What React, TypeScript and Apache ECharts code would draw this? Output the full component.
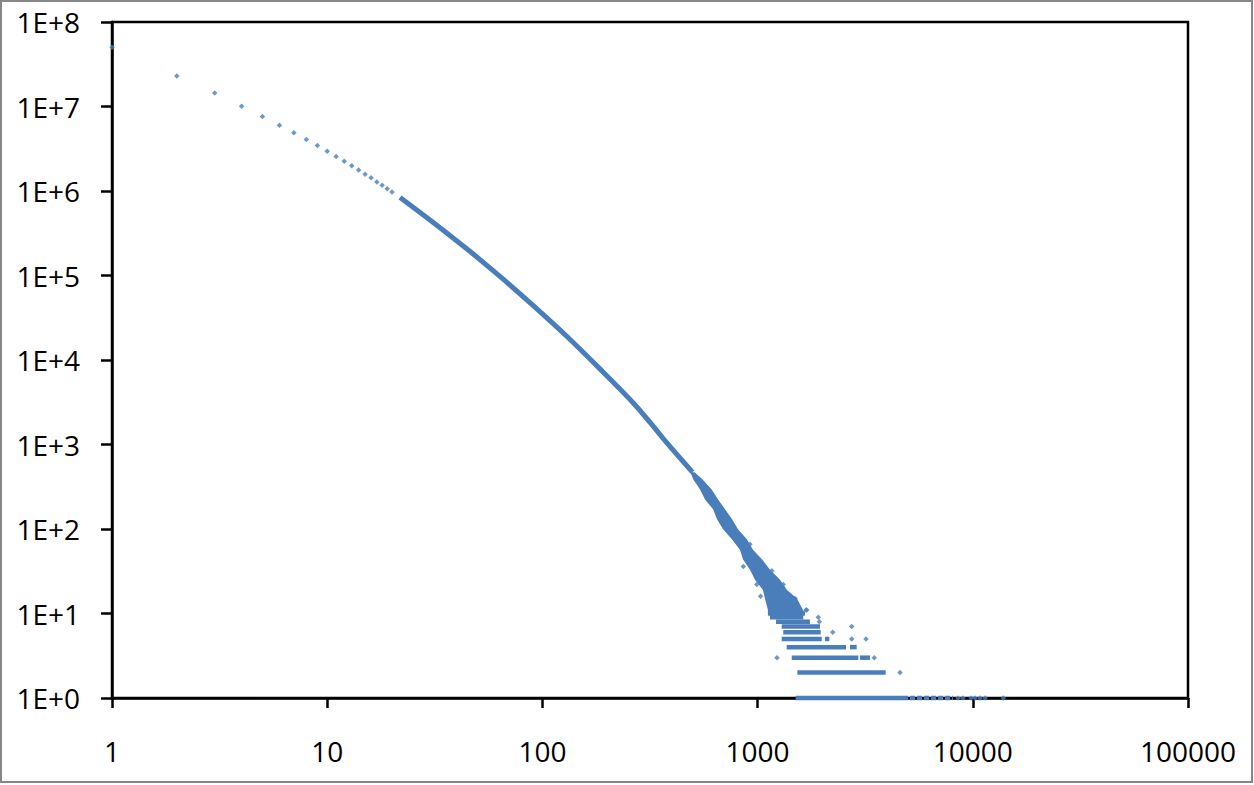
import React, { useEffect, useRef } from 'react';
import * as echarts from 'echarts';

// Individually visible points at the small-x end
const headX = [1, 2, 3, 4, 5, 6, 7, 8, 9, 10, 11, 12, 13, 14, 15, 16, 17, 18, 19, 20];
const headY = [5.02e7, 2.3e7, 1.44e7, 1.01e7, 7.6e6, 6.0e6, 4.88e6, 4.06e6, 3.45e6, 2.96e6,
  2.56e6, 2.25e6, 1.99e6, 1.77e6, 1.58e6, 1.43e6, 1.28e6, 1.17e6, 1.06e6, 9.7e5];

// Dense merged part of the curve (centre line)
const curveX = [21.8, 31.1, 44.5, 63.5, 90.7, 129.7, 185, 264.5, 327, 378, 498];
const curveY = [8.4e5, 4.25e5, 2.07e5, 9.75e4, 4.4e4, 1.91e4, 7.85e3, 3.1e3, 1.65e3, 1050, 470];

// Noisy cloud: left / right edges at each count level
const cloudY = [470, 385, 294, 224, 171, 130, 99, 75, 57, 44, 33, 25, 19, 15, 11, 10];
const cloudLeft = [487, 503, 540, 570, 621, 648, 691, 761, 828, 855, 922, 972, 1059, 1082, 1117, 1117];
const cloudRight = [510, 555, 612, 655, 706, 761, 811, 893, 952, 1047, 1142, 1271, 1370, 1524, 1625, 1660];

// Solid horizontal runs at small integer counts
const bandY = [10, 9, 8, 7, 6, 5, 5, 4, 4, 3, 3, 2, 1];
const bandStart = [1117, 1142, 1218, 1294, 1316, 1294, 2056, 1365, 2687, 1441, 2990, 1530, 1503];
const bandEnd = [1660, 1630, 1751, 1950, 1964, 1986, 2155, 2576, 2886, 2938, 3330, 3938, 4742];

// Sparser run at count 1
const sparseY = [1];
const sparseStart = [4742];
const sparseEnd = [8090];

// Isolated points
const outX = [922, 859, 1164, 991, 1033, 1316, 1493, 1691, 1679, 1914, 1936, 2736, 2234, 2736, 3190,
  1231, 3485, 4590, 8535, 9000, 9810, 10240, 10800, 11400, 13860];
const outY = [66, 36, 32, 22, 16, 22, 15, 11, 11, 9, 8, 7, 6, 5, 5, 3, 3, 2, 1, 1, 1, 1, 1, 1, 1];

const COLOR = '#4A7EBB';

export default function App() {
  const ref = useRef<HTMLDivElement>(null);
  useEffect(() => {
    document.body.style.margin = '0';
    const chart = echarts.init(ref.current!, null, { renderer: 'svg' });
    const font = 'Open Sans';
    const series: any[] = [];
    series.push({
      type: 'custom',
      clip: false,
      silent: true,
      data: [[cloudLeft[0], cloudY[0]]],
      encode: { x: 0, y: 1 },
      renderItem: (params: any, api: any) => {
        const pts: number[][] = [];
        for (let i = 0; i < cloudY.length; i++) pts.push(api.coord([cloudLeft[i], cloudY[i]]));
        for (let i = cloudY.length - 1; i >= 0; i--) pts.push(api.coord([cloudRight[i], cloudY[i]]));
        return { type: 'polygon', shape: { points: pts }, style: { fill: COLOR } };
      },
    });
    series.push({
      type: 'line',
      clip: false,
      smooth: 0.3,
      showSymbol: false,
      data: curveX.map((x, i) => [x, curveY[i]]),
      lineStyle: { color: COLOR, width: 5 },
    });
    bandY.forEach((y, i) => {
      series.push({
        type: 'line',
        clip: false,
        showSymbol: false,
        data: [[bandStart[i], y], [bandEnd[i], y]],
        lineStyle: { color: COLOR, width: 4.5 },
      });
    });
    sparseY.forEach((y, i) => {
      series.push({
        type: 'line',
        clip: false,
        showSymbol: false,
        data: [[sparseStart[i], y], [sparseEnd[i], y]],
        lineStyle: { color: COLOR, width: 4.5, type: [5, 2] },
      });
    });
    series.push({
      type: 'scatter',
      clip: false,
      symbol: 'diamond',
      symbolSize: 5.5,
      data: headX.map((x, i) => [x, headY[i]]),
      itemStyle: { color: COLOR },
    });
    series.push({
      type: 'scatter',
      clip: false,
      symbol: 'diamond',
      symbolSize: 5.5,
      data: outX.map((x, i) => [x, outY[i]]),
      itemStyle: { color: COLOR },
    });

    chart.setOption({
      animation: false,
      backgroundColor: '#fff',
      grid: {
        left: 112, right: 66, top: 22, bottom: 87,
        show: true, borderColor: '#000', borderWidth: 2.5, backgroundColor: 'transparent',
      },
      xAxis: {
        type: 'log', logBase: 10, min: 1, max: 100000,
        axisLine: { lineStyle: { color: '#000', width: 2.5 } },
        axisTick: { show: true, length: 10, lineStyle: { color: '#000', width: 2.5 } },
        splitLine: { show: false },
        axisLabel: {
          color: '#000', fontFamily: font, fontSize: 28, margin: 39,
          formatter: (v: number) => String(Math.round(v)),
        },
      },
      yAxis: {
        type: 'log', logBase: 10, min: 1, max: 1e8,
        axisLine: { lineStyle: { color: '#000', width: 2.5 } },
        axisTick: { show: true, length: 11, lineStyle: { color: '#000', width: 2.5 } },
        splitLine: { show: false },
        axisLabel: {
          color: '#000', fontFamily: font, fontSize: 28, margin: 32,
          formatter: (v: number) => '1E+' + Math.round(Math.log10(v)),
        },
      },
      graphic: [
        {
          type: 'rect',
          shape: { x: 1, y: 1, width: 1251, height: 781 },
          style: { fill: 'none', stroke: '#878787', lineWidth: 2 },
          silent: true,
        },
      ],
      series,
    });
    return () => chart.dispose();
  }, []);
  return <div ref={ref} style={{ width: 1254, height: 785 }} />;
}
